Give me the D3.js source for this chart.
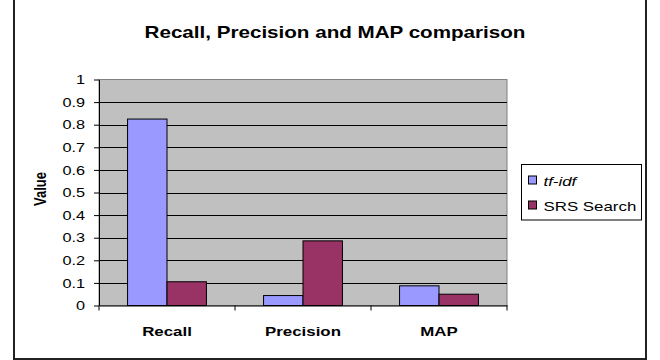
<!DOCTYPE html>
<html>
<head>
<meta charset="utf-8">
<script src="https://cdn.jsdelivr.net/npm/d3@7"></script>
<style>
  body { margin: 0; background: #fff; }
  text { font-family: "Liberation Sans", Arial, sans-serif; fill: #000; }
</style>
</head>
<body>
<div id="chart"></div>
<script>
var categories = ['Recall', 'Precision', 'MAP'];
var seriesNames = ['tf-idf', 'SRS Search'];
var tfidfValues = [0.825, 0.044, 0.087];
var srsValues = [0.105, 0.286, 0.050];
var yTicks = [0, 0.1, 0.2, 0.3, 0.4, 0.5, 0.6, 0.7, 0.8, 0.9, 1];
var colors = ['#9999ff', '#993366'];

// the original picture is stretched sideways, so text gets the same stretch
var SX = 1.25;

var plot = {left: 99, top: 79.5, right: 507, bottom: 305.5};

var svg = d3.select("#chart")
    .append("svg")
    .attr("width", 660)
    .attr("height", 360);

// outer chart border (top edge is cut off in the picture)
svg.append("rect")
    .attr("x", 14).attr("y", -5)
    .attr("width", 632).attr("height", 364)
    .attr("fill", "#fff")
    .attr("stroke", "#222")
    .attr("stroke-width", 2);

function stretchedText(x, y, str) {
    return svg.append("g")
        .attr("transform", "translate(" + x + "," + y + ") scale(" + SX + ",1)")
        .append("text")
        .text(str);
}

stretchedText(335, 38, "Recall, Precision and MAP comparison")
    .attr("text-anchor", "middle")
    .attr("font-size", 16.5)
    .attr("font-weight", "bold");

var x0 = d3.scaleBand()
    .domain(categories)
    .range([plot.left, plot.right]);

var pad = x0.bandwidth() * 0.21;
var x1 = d3.scaleBand()
    .domain(seriesNames)
    .range([pad, x0.bandwidth() - pad]);

var y = d3.scaleLinear()
    .domain([0, 1])
    .range([plot.bottom, plot.top]);

// plot area
svg.append("rect")
    .attr("x", plot.left).attr("y", plot.top)
    .attr("width", plot.right - plot.left)
    .attr("height", plot.bottom - plot.top)
    .attr("fill", "#c0c0c0")
    .attr("stroke", "#808080")
    .attr("stroke-width", 1);

// gridlines
svg.append("g")
    .selectAll("line")
    .data(yTicks.filter(function(d) { return d > 0 && d < 1; }))
    .enter().append("line")
    .attr("x1", plot.left).attr("x2", plot.right)
    .attr("y1", function(d) { return Math.round(y(d)) + 0.5; })
    .attr("y2", function(d) { return Math.round(y(d)) + 0.5; })
    .attr("stroke", "#000")
    .attr("stroke-width", 1);

var rows = categories.map(function(c, i) {
    return {cat: c, values: [tfidfValues[i], srsValues[i]]};
});

var groups = svg.append("g")
    .selectAll("g")
    .data(rows)
    .enter().append("g")
    .attr("transform", function(d) { return "translate(" + x0(d.cat) + ",0)"; });

groups.selectAll("rect")
    .data(function(d) {
        return d.values.map(function(v, j) { return {name: seriesNames[j], value: v, idx: j}; });
    })
    .enter().append("rect")
    .attr("x", function(d) { return x1(d.name); })
    .attr("y", function(d) { return y(d.value); })
    .attr("width", x1.bandwidth())
    .attr("height", function(d) { return plot.bottom - y(d.value); })
    .attr("fill", function(d) { return colors[d.idx]; })
    .attr("stroke", "#000")
    .attr("stroke-width", 1);

// y axis
var yAxis = svg.append("g")
    .attr("transform", "translate(" + plot.left + ",0)")
    .call(d3.axisLeft(y).tickValues(yTicks).tickSize(5).tickSizeOuter(0).tickFormat(function(d) { return String(d); }));
yAxis.select(".domain").attr("stroke", "#000");
yAxis.selectAll(".tick line").attr("stroke", "#000");
yAxis.selectAll(".tick text")
    .attr("x", -14 / SX)
    .attr("transform", "scale(" + SX + ",1)")
    .attr("font-size", 13)
    .attr("font-family", "Liberation Sans, Arial, sans-serif")
    .attr("fill", "#000");

// x axis
var xAxis = svg.append("g")
    .attr("transform", "translate(0," + plot.bottom + ")")
    .call(d3.axisBottom(x0).tickSize(0).tickSizeOuter(0));
xAxis.select(".domain").attr("stroke", "#000");
xAxis.selectAll(".tick text").remove();
xAxis.selectAll(".bound")
    .data([plot.left].concat(categories.map(function(c) { return x0(c) + x0.bandwidth(); })))
    .enter().append("line")
    .attr("x1", function(d) { return d; }).attr("x2", function(d) { return d; })
    .attr("y1", 0).attr("y2", 5)
    .attr("stroke", "#000");

categories.forEach(function(c) {
    stretchedText(x0(c) + x0.bandwidth() / 2, 336, c)
        .attr("text-anchor", "middle")
        .attr("font-size", 13.5)
        .attr("font-weight", "bold");
});

// y axis title
svg.append("g")
    .attr("transform", "translate(46,189) scale(" + SX + ",1) rotate(-90)")
    .append("text")
    .attr("text-anchor", "middle")
    .attr("font-size", 13)
    .attr("font-weight", "bold")
    .text("Value");

// legend
svg.append("rect")
    .attr("x", 521.5).attr("y", 164.5)
    .attr("width", 120).attr("height", 55.5)
    .attr("fill", "#fff")
    .attr("stroke", "#000")
    .attr("stroke-width", 1);

seriesNames.forEach(function(name, i) {
    var cy = 180 + i * 25;
    svg.append("rect")
        .attr("x", 528.5).attr("y", cy - 4)
        .attr("width", 8).attr("height", 8)
        .attr("fill", colors[i])
        .attr("stroke", "#000");
    var t = stretchedText(543.5, cy + 5.5, name)
        .attr("font-size", 13.5);
    if (i === 0) t.attr("font-style", "italic");
});
</script>
</body>
</html>
